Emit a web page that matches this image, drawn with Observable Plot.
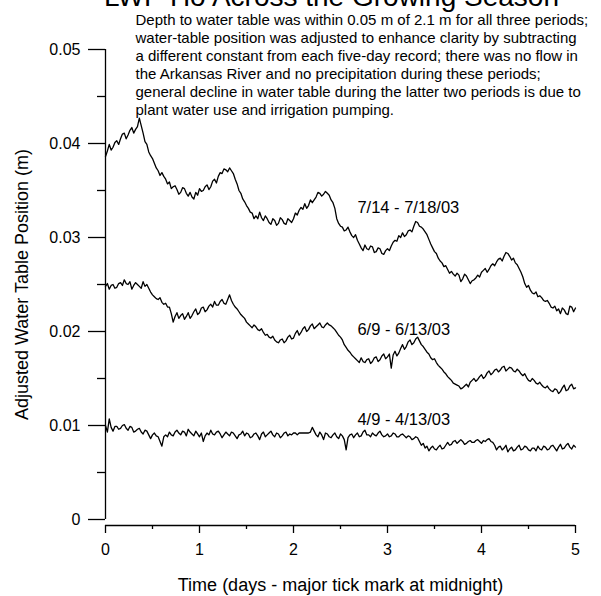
<!DOCTYPE html>
<html><head><meta charset="utf-8">
<script src="https://cdn.jsdelivr.net/npm/d3@7"></script>
<script src="https://cdn.jsdelivr.net/npm/@observablehq/plot@0.6"></script>
<style>body{margin:0;background:#fff;}</style>
</head><body><div id="chart"></div>
<script>
const title = "LWP Ho Across the Growing Season";
const noteLines = [
  "Depth to water table was within 0.05 m of 2.1 m for all three periods;",
  "water-table position was adjusted to enhance clarity by subtracting",
  "a different constant from each five-day record; there was no flow in",
  "the Arkansas River and no precipitation during these periods;",
  "general decline in water table during the latter two periods is due to",
  "plant water use and irrigation pumping."
];
const xTitle = "Time (days - major tick mark at midnight)";
const yTitle = "Adjusted Water Table Position (m)";
const seriesNames = ["7/14 - 7/18/03", "6/9 - 6/13/03", "4/9 - 4/13/03"];
const timeStep = 0.02; // days between readings

const julyValues = [
0.0386,0.0392,0.0399,0.0393,0.0396,0.0401,0.0403,0.0399,0.0405,0.0410,0.0411,0.0405,0.0409,0.0414,0.0417,0.0411,0.0415,0.0418,0.0427,0.0419,
0.0411,0.0402,0.0399,0.0391,0.0387,0.0384,0.0379,0.0374,0.0371,0.0366,0.0369,0.0365,0.0362,0.0357,0.0359,0.0352,0.0354,0.0355,0.0351,0.0346,
0.0348,0.0353,0.0352,0.0347,0.0344,0.0348,0.0343,0.0341,0.0348,0.0345,0.0352,0.0349,0.0350,0.0354,0.0356,0.0351,0.0354,0.0360,0.0362,0.0358,
0.0365,0.0369,0.0368,0.0373,0.0372,0.0370,0.0374,0.0371,0.0368,0.0362,0.0357,0.0350,0.0347,0.0341,0.0338,0.0334,0.0331,0.0327,0.0326,0.0320,
0.0323,0.0320,0.0327,0.0321,0.0318,0.0323,0.0320,0.0316,0.0314,0.0320,0.0318,0.0313,0.0315,0.0321,0.0319,0.0315,0.0314,0.0320,0.0318,0.0316,
0.0320,0.0326,0.0324,0.0329,0.0332,0.0330,0.0336,0.0331,0.0334,0.0340,0.0337,0.0340,0.0343,0.0348,0.0347,0.0344,0.0346,0.0349,0.0347,0.0345,
0.0340,0.0337,0.0331,0.0320,0.0315,0.0312,0.0311,0.0307,0.0308,0.0311,0.0306,0.0302,0.0300,0.0303,0.0297,0.0293,0.0289,0.0286,0.0292,0.0288,
0.0287,0.0291,0.0290,0.0284,0.0285,0.0289,0.0288,0.0283,0.0282,0.0286,0.0288,0.0286,0.0291,0.0295,0.0297,0.0296,0.0302,0.0300,0.0305,0.0301,
0.0303,0.0307,0.0308,0.0306,0.0312,0.0317,0.0316,0.0312,0.0311,0.0309,0.0306,0.0303,0.0298,0.0293,0.0289,0.0285,0.0283,0.0278,0.0275,0.0273,
0.0269,0.0270,0.0266,0.0262,0.0264,0.0261,0.0259,0.0262,0.0260,0.0253,0.0256,0.0261,0.0259,0.0255,0.0251,0.0254,0.0255,0.0257,0.0260,0.0258,
0.0263,0.0265,0.0267,0.0263,0.0266,0.0270,0.0272,0.0270,0.0274,0.0277,0.0278,0.0275,0.0280,0.0284,0.0283,0.0280,0.0276,0.0278,0.0273,0.0271,
0.0267,0.0263,0.0258,0.0251,0.0247,0.0249,0.0244,0.0241,0.0240,0.0242,0.0237,0.0238,0.0236,0.0233,0.0232,0.0233,0.0230,0.0226,0.0225,0.0227,
0.0222,0.0224,0.0219,0.0225,0.0223,0.0219,0.0218,0.0227,0.0226,0.0221,0.0225];

const juneValues = [
0.0248,0.0251,0.0245,0.0249,0.0250,0.0246,0.0247,0.0251,0.0252,0.0249,0.0255,0.0251,0.0250,0.0253,0.0245,0.0249,0.0252,0.0250,0.0248,0.0246,
0.0253,0.0248,0.0250,0.0246,0.0242,0.0239,0.0237,0.0235,0.0234,0.0236,0.0231,0.0229,0.0230,0.0226,0.0226,0.0219,0.0210,0.0216,0.0220,0.0214,
0.0217,0.0219,0.0213,0.0216,0.0220,0.0214,0.0217,0.0221,0.0224,0.0218,0.0220,0.0225,0.0226,0.0221,0.0223,0.0227,0.0229,0.0226,0.0232,0.0228,
0.0228,0.0232,0.0234,0.0230,0.0229,0.0234,0.0239,0.0233,0.0229,0.0226,0.0224,0.0221,0.0218,0.0216,0.0214,0.0210,0.0208,0.0206,0.0204,0.0207,
0.0205,0.0202,0.0201,0.0203,0.0199,0.0196,0.0197,0.0194,0.0193,0.0195,0.0191,0.0189,0.0188,0.0191,0.0192,0.0188,0.0190,0.0194,0.0196,0.0192,
0.0193,0.0198,0.0201,0.0196,0.0199,0.0203,0.0205,0.0200,0.0202,0.0206,0.0208,0.0203,0.0205,0.0207,0.0209,0.0205,0.0204,0.0207,0.0209,0.0207,
0.0206,0.0204,0.0202,0.0199,0.0196,0.0194,0.0191,0.0186,0.0183,0.0180,0.0178,0.0175,0.0173,0.0171,0.0169,0.0167,0.0172,0.0168,0.0167,0.0170,
0.0171,0.0166,0.0168,0.0172,0.0173,0.0168,0.0170,0.0174,0.0176,0.0171,0.0173,0.0176,0.0161,0.0175,0.0179,0.0174,0.0177,0.0182,0.0186,0.0181,
0.0184,0.0189,0.0191,0.0186,0.0188,0.0192,0.0194,0.0190,0.0186,0.0184,0.0181,0.0178,0.0176,0.0172,0.0170,0.0171,0.0167,0.0164,0.0162,0.0160,
0.0157,0.0155,0.0152,0.0150,0.0148,0.0145,0.0144,0.0143,0.0142,0.0139,0.0140,0.0142,0.0144,0.0141,0.0146,0.0148,0.0150,0.0147,0.0149,0.0152,
0.0154,0.0150,0.0152,0.0156,0.0158,0.0154,0.0156,0.0159,0.0160,0.0157,0.0159,0.0162,0.0163,0.0158,0.0160,0.0162,0.0161,0.0158,0.0157,0.0160,
0.0158,0.0155,0.0153,0.0155,0.0151,0.0148,0.0147,0.0150,0.0148,0.0145,0.0144,0.0146,0.0143,0.0141,0.0140,0.0142,0.0139,0.0137,0.0136,0.0139,
0.0138,0.0134,0.0136,0.0140,0.0143,0.0137,0.0138,0.0142,0.0144,0.0139,0.0140];

const aprilValues = [
0.0100,0.0093,0.0107,0.0098,0.0094,0.0099,0.0099,0.0096,0.0097,0.0100,0.0101,0.0097,0.0095,0.0099,0.0098,0.0093,0.0094,0.0096,0.0097,0.0093,
0.0091,0.0095,0.0094,0.0090,0.0086,0.0090,0.0092,0.0089,0.0088,0.0083,0.0078,0.0088,0.0090,0.0088,0.0093,0.0090,0.0089,0.0093,0.0095,0.0092,
0.0090,0.0094,0.0093,0.0089,0.0096,0.0093,0.0091,0.0089,0.0094,0.0091,0.0088,0.0092,0.0083,0.0089,0.0092,0.0090,0.0095,0.0091,0.0090,0.0093,
0.0094,0.0091,0.0087,0.0090,0.0093,0.0091,0.0089,0.0093,0.0092,0.0089,0.0086,0.0090,0.0091,0.0094,0.0089,0.0092,0.0091,0.0087,0.0088,0.0091,
0.0092,0.0089,0.0085,0.0091,0.0093,0.0088,0.0090,0.0092,0.0094,0.0090,0.0088,0.0092,0.0091,0.0087,0.0089,0.0092,0.0093,0.0089,0.0091,0.0090,
0.0092,0.0092,0.0090,0.0092,0.0092,0.0092,0.0092,0.0092,0.0092,0.0093,0.0098,0.0094,0.0090,0.0088,0.0093,0.0090,0.0085,0.0092,0.0091,0.0088,
0.0087,0.0090,0.0092,0.0088,0.0086,0.0091,0.0089,0.0085,0.0074,0.0087,0.0090,0.0091,0.0087,0.0090,0.0092,0.0088,0.0089,0.0093,0.0095,0.0090,
0.0090,0.0088,0.0092,0.0090,0.0089,0.0092,0.0094,0.0090,0.0088,0.0089,0.0091,0.0088,0.0089,0.0092,0.0091,0.0088,0.0088,0.0090,0.0091,0.0089,
0.0087,0.0089,0.0088,0.0085,0.0086,0.0088,0.0087,0.0083,0.0079,0.0081,0.0076,0.0078,0.0073,0.0076,0.0078,0.0075,0.0074,0.0077,0.0079,0.0075,
0.0076,0.0079,0.0082,0.0079,0.0080,0.0083,0.0084,0.0081,0.0083,0.0085,0.0083,0.0080,0.0081,0.0083,0.0084,0.0082,0.0082,0.0084,0.0085,0.0083,
0.0081,0.0084,0.0083,0.0085,0.0086,0.0083,0.0082,0.0079,0.0074,0.0077,0.0078,0.0074,0.0076,0.0079,0.0072,0.0075,0.0077,0.0073,0.0074,0.0077,
0.0079,0.0074,0.0075,0.0078,0.0077,0.0074,0.0073,0.0076,0.0076,0.0073,0.0078,0.0075,0.0074,0.0078,0.0077,0.0074,0.0075,0.0078,0.0079,0.0076,
0.0073,0.0077,0.0080,0.0075,0.0076,0.0079,0.0081,0.0077,0.0075,0.0079,0.0077];

const xMajorTicks = [0, 1, 2, 3, 4, 5];
const xMinorTicks = [0.5, 1.5, 2.5, 3.5, 4.5];
const yMajorTicks = [0, 0.01, 0.02, 0.03, 0.04, 0.05];
const yMinorTicks = [0.005, 0.015, 0.025, 0.035, 0.045];
const labelDay = [2.68, 2.68, 2.68];
const labelLevel = [0.0332, 0.0202, 0.0106];

const data = [];
[julyValues, juneValues, aprilValues].forEach((vals, k) =>
  vals.forEach((v, i) => data.push({series: seriesNames[k], t: +(i * timeStep).toFixed(2), v})));
const labels = seriesNames.map((name, k) => ({name, t: labelDay[k], v: labelLevel[k]}));

const font = "'Liberation Sans', Arial, Helvetica, sans-serif";
const chart = Plot.plot({
  width: 601, height: 596,
  marginLeft: 105, marginRight: 26, marginTop: 49, marginBottom: 71,
  style: {fontFamily: font, fontSize: "16px", background: "white", color: "black"},
  x: {domain: [0, 5]},
  y: {domain: [0, 0.05], range: [519, 49]},
  marks: [
    Plot.ruleX([0], {y1: 0, y2: 0.05, strokeWidth: 1.3}),
    Plot.ruleY([0], {x1: 0, x2: 5, dy: 6, strokeWidth: 1.3}),
    Plot.axisY(yMajorTicks, {tickSize: 17, tickPadding: 8, tickFormat: d => d === 0 ? "0" : d.toFixed(2), fontSize: 16, strokeWidth: 1.3, label: null}),
    Plot.axisY(yMinorTicks, {tickSize: 8, tickFormat: () => "", strokeWidth: 1.3, label: null}),
    Plot.axisX(xMajorTicks, {tickSize: 8, tickPadding: 10, fontSize: 16, strokeWidth: 1.3, label: null}),
    Plot.axisX(xMinorTicks, {tickSize: 4, tickFormat: () => "", strokeWidth: 1.3, label: null}),
    Plot.line(data, {x: "t", y: "v", z: "series", stroke: "black", strokeWidth: 1.3}),
    Plot.text(labels, {x: "t", y: "v", text: "name", textAnchor: "start", fontSize: 16.5}),
    Plot.text([xTitle], {frameAnchor: "bottom", dy: 60, lineAnchor: "middle", fontSize: 18}),
    Plot.text([yTitle], {frameAnchor: "left", dx: -83, dy: -3, rotate: -90, textAnchor: "middle", lineAnchor: "middle", fontSize: 18}),
    Plot.text([title], {frameAnchor: "top", dx: -9, dy: -63, lineAnchor: "top", fontSize: 28}),
    Plot.text([noteLines.join("\n")], {frameAnchor: "top-left", dx: 30, dy: -37, lineAnchor: "top", textAnchor: "start", lineHeight: 1.2, fontSize: 15})
  ]
});
document.getElementById("chart").appendChild(chart);
</script>
</body></html>
